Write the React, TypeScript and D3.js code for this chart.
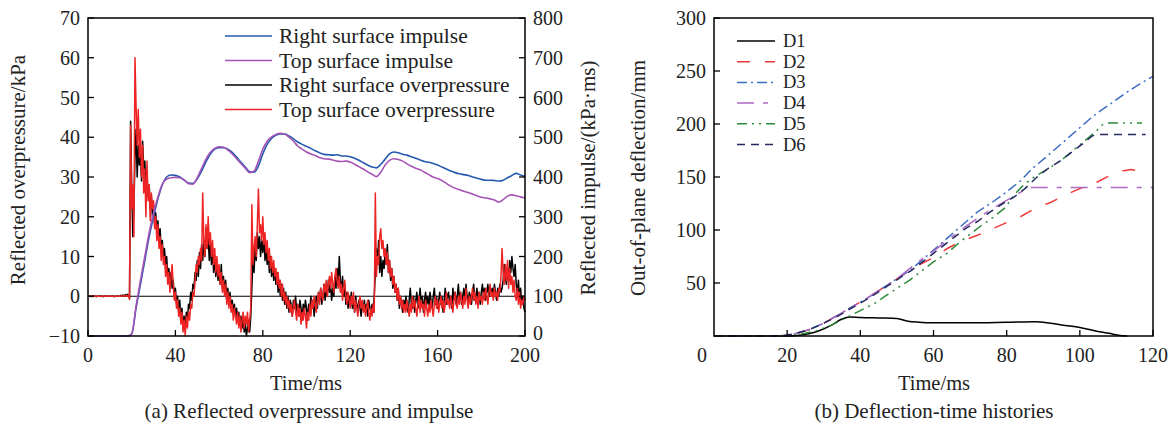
import React from 'react';
import * as d3 from 'd3';

// ---------- (a) Reflected overpressure and impulse ----------
const OP_STEP = 0.5; // ms between samples
const rightOverpressure = [
  0,0.1,0,-0.1,0,0.1,0,0,-0.1,0,
  0,0.1,0,0,-0.1,0,0.1,0,0,0,
  0,0,0.1,0,-0.1,0,0,0.1,0,0,
  0.2,0,0.3,0.1,0.4,0.2,0.5,0.3,-0.5,44,
  28,15,22,35,42,30,38,33,36,29,
  39,32,34,27,30,25,28,22,25,20,
  23,18,21,16,19,14,17,12,14,10,
  12,8,10,5,7,3,6,2,4,0,
  2,-2,0,-4,-1,-6,-3,-8,-5,-7,
  -4,-6,-2,-3,1,-1,3,2,6,4,
  9,5,11,7,13,9,14,10,17,12,
  15,9,13,8,12,6,10,5,9,4,
  7,3,8,2,5,1,4,-1,2,-2,
  1,-3,-1,-4,-2,-5,-3,-6,-4,-7,
  -5,-8,-6,-9,-7,-10,-8,-6,-9,-5,
  2,10,6,13,9,16,12,15,10,14,
  11,15,9,12,8,11,6,10,5,8,
  4,7,3,6,1,4,0,3,-1,2,
  -2,1,-3,0,-4,-1,-2,-5,-1,-3,
  0,-4,-2,-5,-1,-3,-6,-2,-4,-1,
  -3,-6,-2,-4,0,-3,-1,-5,-2,0,
  -3,1,-1,2,-2,0,3,-1,2,0,
  4,1,3,-1,2,0,5,2,7,3,
  10,4,2,5,0,3,-2,1,-3,0,
  -2,1,-3,-1,-4,0,-2,-4,-1,-3,
  -5,-2,-3,-1,-4,-2,-5,-1,-3,-4,
  -2,-4,0,6,12,8,14,6,10,5,
  9,7,11,8,13,6,9,4,7,2,
  5,1,3,-1,2,-3,0,-2,-4,-1,
  -3,0,-2,-4,-1,2,-2,-3,0,-4,
  -1,1,-3,-1,2,-2,0,-4,-1,1,
  -2,0,-3,1,-1,-3,0,2,-2,0,
  -3,-1,1,-2,0,-4,-1,2,-2,0,
  1,-2,0,-3,2,-1,1,-2,0,3,
  -1,1,-2,0,2,-1,3,0,-2,1,
  0,-2,1,3,-1,0,2,-1,1,-2,
  1,3,0,2,-1,1,3,0,2,1,
  2,0,3,1,-1,2,0,3,1,2,
  4,8,5,3,7,4,9,6,10,7,
  5,8,3,1,4,-1,2,-2,0,-3,
  -4,
];
const topOverpressure = [
  0,0,0.1,0,0,-0.1,0,0.1,0,0,
  0,0,-0.1,0,0.1,0,0,0,0.1,0,
  0,0.1,0,0,-0.1,0,0,0.1,0,0,
  0,0.1,0,0.2,0,0.2,0,0.3,-0.8,43,
  22,28,15,60,48,38,47,35,42,30,
  38,26,32,20,34,24,28,19,26,22,
  24,17,20,14,18,12,15,9,13,8,
  10,5,8,3,6,1,5,8,3,-1,
  1,-3,-1,-5,-3,-7,-4,-9,-6,-10,
  -5,-8,-4,-6,-2,-3,1,0,4,8,
  6,10,8,12,9,26,14,10,18,12,
  20,13,16,10,14,8,12,6,10,5,
  8,3,6,1,4,0,3,-2,1,-3,
  0,-4,-2,-6,-3,-5,-7,-4,-8,-5,
  -9,-6,-4,-8,-5,-7,-4,-9,-6,-3,
  23,8,12,15,10,18,27,16,18,14,
  20,13,16,11,14,9,12,7,10,6,
  9,5,7,3,6,2,4,0,3,-1,
  1,-2,0,-3,-1,-4,-2,-5,-3,-1,
  -4,-6,-2,-5,-3,-7,-4,-6,-3,-5,
  -8,-4,-6,-2,-5,-1,-3,0,-2,-4,
  -1,1,-2,2,0,-1,3,1,4,0,
  3,5,2,6,3,1,5,7,4,2,
  5,1,3,-1,2,4,0,-2,1,-1,
  -3,0,-2,1,-4,-1,-3,-5,-2,0,
  -3,-1,-4,-2,-5,-3,-1,-4,-6,-3,
  -5,-2,-4,26,5,10,8,15,17,12,
  14,10,12,8,11,6,9,5,7,3,
  5,1,3,-1,2,-2,0,-3,-1,-4,
  -2,-4,-1,-3,-5,-2,-4,0,-3,-1,
  -3,-5,-2,0,-4,-1,-3,-2,-5,-1,
  -3,-5,-2,-4,-1,-3,-5,-2,0,-3,
  -1,-4,-2,0,-3,-1,-4,-2,1,-2,
  -1,-3,0,-2,-4,-1,1,-2,-3,0,
  -2,1,-1,-3,0,-2,2,-1,-3,0,
  -2,0,2,-1,1,-2,0,-3,1,-1,
  0,-2,1,-1,2,0,-2,1,3,0,
  1,-1,2,0,1,-1,2,1,5,12,
  6,3,8,4,9,2,7,3,5,1,
  4,0,-1,2,-2,1,-3,-1,-2,0,
  -1,
];
const IMP_STEP = 2; // ms between samples
const rightImpulse = [
  0,0,0,0,0,0,0,0,0,0,
  5,70,130,190,250,300,345,380,400,405,
  404,400,392,385,384,395,415,438,458,470,
  474,474,470,462,450,437,425,413,412,428,
  458,482,497,505,508,508,503,496,488,482,
  477,472,466,461,457,456,455,456,453,453,
  451,447,442,436,430,425,423,432,445,458,
  463,461,457,455,451,447,443,439,437,434,
  430,425,420,415,411,408,406,404,400,397,
  394,392,392,391,390,392,398,404,409,405,
  401,
];
const topImpulse = [
  0,0,0,0,0,0,0,0,0,0,
  5,75,140,200,260,310,350,382,395,398,
  399,398,393,383,382,398,422,445,462,472,
  476,475,468,458,446,434,422,411,415,440,
  470,490,501,507,510,508,500,490,478,470,
  463,458,454,449,446,445,443,440,439,440,
  438,432,426,420,413,407,401,412,430,442,
  446,444,440,433,427,422,418,412,406,400,
  396,391,384,377,372,368,364,361,357,353,
  349,347,345,342,337,343,352,355,353,350,
  347,
];
const opTicks = [-10, 0, 10, 20, 30, 40, 50, 60, 70];
const impulseTicks = [0, 100, 200, 300, 400, 500, 600, 700, 800];
const timeTicksA = [0, 40, 80, 120, 160, 200];
const legendA = ['Right surface impulse', 'Top surface impulse', 'Right surface overpressure', 'Top surface overpressure'];

// ---------- (b) Deflection-time histories ----------
const D1_T = [0,20,24,28,32,35,37,40,45,50,53,56,60,70,80,88,92,96,100,104,108,111,113];
const D1_V = [0,0,1,4,10,16,18,17.5,17,16.5,14,13,12.5,12.5,13,13.5,12,10,8,5,2.5,0.5,0];
const D2_T = [0,18,22,26,30,34,38,42,46,50,53,56,60,64,68,72,76,80,84,88,92,96,100,104,108,112,114,116];
const D2_V = [0,0,2,6,12,20,28,36,45,54,61,67,74,83,90,95,101,107,113,121,126,133,139,144,151,156,157,156];
const D3_T = [0,18,22,26,30,34,38,42,46,50,54,57,60,63,66,69,72,76,80,84,87,90.5,94.5,98.5,102.5,105,108,112,116,120];
const D3_V = [0,0,2,6,12,20,28,36,45,54,63,72,81,90,99,108,117,126,136,147,158,168,180,192,204,211,218,228,237,245];
const D4_T = [0,18,22,26,30,34,38,42,46,50,54,57,60,63,66,69,72,76,80,83.5,86,120];
const D4_V = [0,0,2,6,12,20,28,36,45,54,65,73,80,88,96,104,111,120,128,135,140,140];
const D5_T = [0,20,24,28,32,36,40,44,47,50,53.6,57,60,63.7,67,70,73,76.3,79.6,82,84.5,87.5,91.5,95,98.5,102,104.7,106,108,117];
const D5_V = [0,0,2,5,10,17,24,31,38,45,53,62,70,78,88,96,104,112,121,133,142,150,158,166,176,186,194,199,201,201];
const D6_T = [0,18,22,26,30,34,38,42,46,50,54,57,60,63,66,69,72,75.5,79,82,85,88.3,91.3,95,98,101,103.5,105,118];
const D6_V = [0,0,2,6,12,19,27,35,44,53,62,70,78,86,94,102,108,117,125,131,139,150,158,166,174,182,189,190,190];
const deflTicks = [50, 100, 150, 200, 250, 300];
const timeTicksB = [20, 40, 60, 80, 100, 120];
const legendB = ['D1', 'D2', 'D3', 'D4', 'D5', 'D6'];

const FONT = '"Liberation Serif", "Times New Roman", Times, serif';
const TXT = '#222';

export default function App() {
  // panel (a)
  const A = { x0: 88, x1: 525, y0: 18, y1: 336 };
  const xA = d3.scaleLinear().domain([0, 200]).range([A.x0, A.x1]);
  const yP = d3.scaleLinear().domain([-10, 70]).range([A.y1, A.y0]);
  const yI = d3.scaleLinear().domain([0, 800]).range([A.y1, A.y0]);
  const lineP = d3.line<number>().x((_, i) => xA(i * OP_STEP)).y((v) => yP(v));
  const lineI = d3.line<number>().x((_, i) => xA(i * IMP_STEP)).y((v) => yI(v)).curve(d3.curveMonotoneX);

  // panel (b)
  const B = { x0: 714, x1: 1153, y0: 18, y1: 336 };
  const xB = d3.scaleLinear().domain([0, 120]).range([B.x0, B.x1]);
  const yB = d3.scaleLinear().domain([0, 300]).range([B.y1, B.y0]);
  const mk = (T: number[], V: number[], smooth = false) => {
    const l = d3.line<number>().x((_, i) => xB(T[i])).y((v) => yB(v));
    if (smooth) l.curve(d3.curveMonotoneX);
    return l(V) || '';
  };

  const seriesA = [
    { color: '#2459ae', w: 1.6 },
    { color: '#a653b6', w: 1.6 },
    { color: '#000000', w: 1.5 },
    { color: '#ee2424', w: 1.5 },
  ];
  const seriesB = [
    { color: '#000000', dash: 'none', d: mk(D1_T, D1_V, true) },
    { color: '#f03a3a', dash: '13,15', d: mk(D2_T, D2_V) },
    { color: '#3a6cc2', dash: '10,4,2,4', d: mk(D3_T, D3_V) },
    { color: '#b06ac2', dash: '17,9,5,9', d: mk(D4_T, D4_V) },
    { color: '#2e8a3c', dash: '10,5,2,5,2,5', d: mk(D5_T, D5_V) },
    { color: '#262a60', dash: '8,6', d: mk(D6_T, D6_V) },
  ];

  return (
    <svg width={1174} height={428} style={{ position: 'fixed', left: 0, top: 0, background: '#fff' }} fontFamily={FONT}>
      <rect x={0} y={0} width={1174} height={428} fill="#fff" />
      {/* ===== Panel (a) ===== */}
      <line x1={A.x0} x2={A.x1} y1={yP(0)} y2={yP(0)} stroke="#000" strokeWidth={1.2} />
      <path d={lineP(rightOverpressure) || ''} fill="none" stroke={seriesA[2].color} strokeWidth={seriesA[2].w} strokeLinejoin="round" />
      <path d={lineP(topOverpressure) || ''} fill="none" stroke={seriesA[3].color} strokeWidth={seriesA[3].w} strokeLinejoin="round" />
      <path d={lineI(rightImpulse) || ''} fill="none" stroke={seriesA[0].color} strokeWidth={seriesA[0].w} />
      <path d={lineI(topImpulse) || ''} fill="none" stroke={seriesA[1].color} strokeWidth={seriesA[1].w} />
      <rect x={A.x0} y={A.y0} width={A.x1 - A.x0} height={A.y1 - A.y0} fill="none" stroke="#000" strokeWidth={1.5} />
      {opTicks.map((t) => (
        <g key={'op' + t}>
          <line x1={A.x0} x2={A.x0 + 6} y1={yP(t)} y2={yP(t)} stroke="#000" strokeWidth={1.3} />
          <text x={A.x0 - 8} y={yP(t)} textAnchor="end" dominantBaseline="central" fontSize={20} fill={TXT}>
            {t < 0 ? '\u2212' + Math.abs(t) : t}
          </text>
        </g>
      ))}
      {impulseTicks.map((t) => (
        <g key={'im' + t}>
          <line x1={A.x1} x2={A.x1 - 6} y1={yI(t)} y2={yI(t)} stroke="#000" strokeWidth={1.3} />
          <text x={A.x1 + 8} y={t === 0 ? yI(t) - 3 : yI(t)} textAnchor="start" dominantBaseline="central" fontSize={20} fill={TXT}>
            {t}
          </text>
        </g>
      ))}
      {timeTicksA.map((t) => (
        <g key={'ta' + t}>
          <line x1={xA(t)} x2={xA(t)} y1={A.y1} y2={A.y1 - 6} stroke="#000" strokeWidth={1.3} />
          <text x={xA(t)} y={362} textAnchor="middle" fontSize={20} fill={TXT}>
            {t}
          </text>
        </g>
      ))}
      <text x={306} y={390} textAnchor="middle" fontSize={20.5} fill={TXT}>Time/ms</text>
      <text x={309} y={418} textAnchor="middle" fontSize={21} fill={TXT}>(a) Reflected overpressure and impulse</text>
      <text transform={`translate(25,170) rotate(-90)`} textAnchor="middle" fontSize={21} fill={TXT}>Reflected overpressure/kPa</text>
      <text transform={`translate(595,178) rotate(-90)`} textAnchor="middle" fontSize={21} fill={TXT}>Reflected impulse/(kPa·ms)</text>
      {legendA.map((s, i) => (
        <g key={s}>
          <line x1={225} x2={272} y1={36 + i * 24.5} y2={36 + i * 24.5} stroke={seriesA[i].color} strokeWidth={1.6} />
          <text x={279} y={36 + i * 24.5} dominantBaseline="central" fontSize={21.5} fill={TXT}>{s}</text>
        </g>
      ))}

      {/* ===== Panel (b) ===== */}
      {seriesB.map((s, i) => (
        <path key={'b' + i} d={s.d} fill="none" stroke={s.color} strokeWidth={1.5} strokeDasharray={s.dash} />
      ))}
      <rect x={B.x0} y={B.y0} width={B.x1 - B.x0} height={B.y1 - B.y0} fill="none" stroke="#000" strokeWidth={1.5} />
      {deflTicks.map((t) => (
        <g key={'df' + t}>
          <line x1={B.x0} x2={B.x0 + 6} y1={yB(t)} y2={yB(t)} stroke="#000" strokeWidth={1.3} />
          <text x={B.x0 - 8} y={yB(t)} textAnchor="end" dominantBaseline="central" fontSize={20} fill={TXT}>{t}</text>
        </g>
      ))}
      {timeTicksB.map((t) => (
        <g key={'tb' + t}>
          <line x1={xB(t)} x2={xB(t)} y1={B.y1} y2={B.y1 - 6} stroke="#000" strokeWidth={1.3} />
          <text x={xB(t)} y={362} textAnchor="middle" fontSize={20} fill={TXT}>{t}</text>
        </g>
      ))}
      <text x={xB(0) - 12} y={362} textAnchor="middle" fontSize={20} fill={TXT}>0</text>
      <text x={934} y={390} textAnchor="middle" fontSize={20.5} fill={TXT}>Time/ms</text>
      <text x={934} y={418} textAnchor="middle" fontSize={21} fill={TXT}>(b) Deflection-time histories</text>
      <text transform={`translate(645,178) rotate(-90)`} textAnchor="middle" fontSize={21} fill={TXT}>Out-of-plane deflection/mm</text>
      {legendB.map((s, i) => (
        <g key={s}>
          <line x1={737} x2={775} y1={41 + i * 20.7} y2={41 + i * 20.7} stroke={seriesB[i].color} strokeWidth={1.5} strokeDasharray={seriesB[i].dash} />
          <text x={783} y={41 + i * 20.7} dominantBaseline="central" fontSize={18.5} fill={TXT}>{s}</text>
        </g>
      ))}
    </svg>
  );
}
